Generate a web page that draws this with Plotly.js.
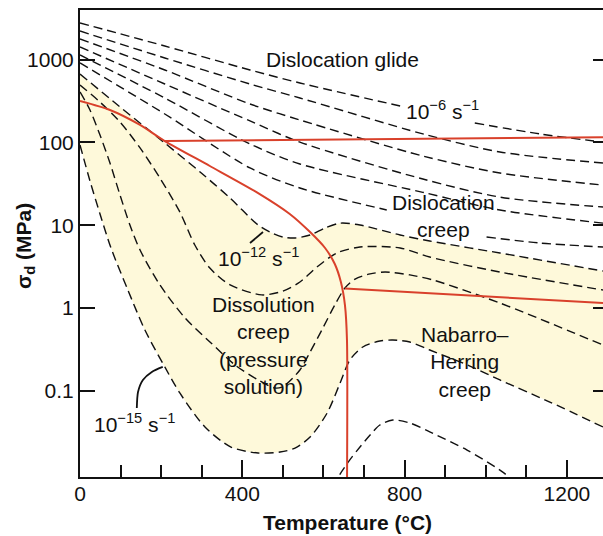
<!DOCTYPE html>
<html><head><meta charset="utf-8">
<script src="https://cdn.plot.ly/plotly-3.0.1.min.js"></script>
<style>html,body{margin:0;padding:0;background:#fff}#chart{width:603px;height:536px}</style>
</head><body><div id="chart"></div>
<script>
// Strain-rate contours: temperature (°C) and differential stress (MPa)
const T_e6  = [0, 209, 419, 542, 789, null, 973, 1133, 1289];
const S_e6  = [2780, 1466, 752, 524, 276, null, 172, 127, 101];
const T_e7  = [0, 209, 419, 542, 845, 1035, 1289];
const S_e7  = [2224, 1050, 509, 345, 127, 76.8, 56.5];
const T_e8  = [0, 209, 419, 542, 845, 1035, 1289];
const S_e8  = [1782, 752, 292, 187, 68.7, 42.8, 30.6];
const T_e9  = [0, 209, 419, 542, 845, 1035, 1289];
const S_e9  = [1426, 509, 182, 101, 36.2, 21.9, 16.6];
const T_e10 = [0, 209, 419, 542, 845, 1035, 1289];
const S_e10 = [1141, 345, 95.9, 55.0, 25.0, 15.3, 10.6];
const T_e11 = [0, 209, 419, 542, 756, null, 1002, 1133, 1289];
const S_e11 = [914, 221, 49.2, 28.2, 15.3, null, 7.21, 6.10, 5.46];
const T_e12 = [0, 98.6, 209, 296, 370, 439, 468, 500, 530, 567, 604, 641, 690, 789, 862, 1035, 1289];
const S_e12 = [673, 269, 98.6, 44.0, 21.3, 10.07, 8.28, 7.21, 7.01, 7.62, 9.27, 10.6, 10.07, 7.62, 6.45, 4.62, 2.80];
const T_e13 = [0, 49.3, 98.6, 148, 197, 246, 283, 320, 370, 448, 500, 542, 584, 633, 690, 789, 862, 1035, 1289];
const S_e13 = [495, 308, 177, 85.9, 37.2, 14.5, 5.77, 3.04, 1.90, 1.44, 1.60, 2.06, 3.13, 4.62, 5.46, 5.31, 4.13, 2.72, 1.65];
const T_e14 = [0, 24.6, 49.3, 73.9, 98.6, 123, 148, 197, 259, 323, 382, 439, 480, 500, 542, 567, 596, 628, 653, 678, 715, 752, 813, 870, 1035, 1289];
const S_e14 = [408, 247, 123, 56.5, 23.2, 10.07, 5.02, 1.90, 0.757, 0.378, 0.205, 0.135, 0.108, 0.112, 0.178, 0.294, 0.542, 1.087, 1.745, 2.24, 2.58, 2.72, 2.51, 2.18, 1.149, 0.357];
const T_e15 = [0, 24.6, 49.3, 76.4, 118, 160, 209, 246, 308, 372, 439, 493, 530, 567, 609, 641, 665, 697, 739, 771, 813, 862, 961, 1035, 1158, 1289];
const S_e15 = [93.3, 34.3, 13.7, 5.31, 1.65, 0.542, 0.194, 0.0940, 0.0365, 0.0209, 0.0177, 0.0182, 0.0203, 0.0276, 0.0538, 0.124, 0.235, 0.338, 0.399, 0.410, 0.388, 0.311, 0.199, 0.135, 0.0731, 0.0365];
const T_e16 = [623, 641, 665, 690, 715, 739, 771, 813, 862, 954, 1042, 1079];
const S_e16 = [0.00687, 0.00986, 0.0146, 0.0209, 0.0292, 0.0386, 0.0443, 0.0408, 0.0318, 0.0192, 0.0104, 0.00726];

// Field boundaries (red)
const T_bDiss = [0, 73.9, 148, 209, 320, 439, 517, 567, 604, 628, 643, 653, 658, 658];
const S_bDiss = [317, 247, 163, 104, 52.0, 24.5, 13.7, 8.28, 5.31, 3.40, 2.06, 1.087, 0.410, 0.00632];
const T_bGlide = [209, 1289];
const S_bGlide = [104, 116];
const T_bNH = [653, 1289];
const S_bNH = [1.72, 1.148];

// Label leaders
const T_lead12 = [419, 451];
const S_lead12 = [6.10, 8.28];
const T_lead15 = [140, 143, 155, 177, 204];
const S_lead15 = [0.0620, 0.0966, 0.135, 0.169, 0.194];

const yTickVals = [0.1, 1, 10, 100, 1000];
const yTickText = ['0.1', '1', '10', '100', '1000'];

const FONT = '"Liberation Sans", Arial, Helvetica, sans-serif';
const INK = '#111111';
const RED = '#d9412b';
const YELLOW = '#fef9da';

function dashed(T, S) {
  return {x: T, y: S, mode: 'lines', connectgaps: false, hoverinfo: 'skip', showlegend: false,
    line: {color: INK, width: 1.4, dash: '9px,5px', shape: 'spline', smoothing: 0.8}};
}
function solid(T, S, color, w, shape) {
  return {x: T, y: S, mode: 'lines', hoverinfo: 'skip', showlegend: false,
    line: {color: color, width: w, shape: shape || 'linear', smoothing: 0.7}};
}

const traces = [
  {x: T_e15, y: S_e15, mode: 'lines', hoverinfo: 'skip', showlegend: false,
   line: {width: 0, color: 'rgba(0,0,0,0)', shape: 'spline', smoothing: 0.8}},
  {x: T_e12, y: S_e12, mode: 'lines', fill: 'tonexty', fillcolor: YELLOW, hoverinfo: 'skip', showlegend: false,
   line: {width: 0, color: 'rgba(0,0,0,0)', shape: 'spline', smoothing: 0.8}},
  dashed(T_e6, S_e6), dashed(T_e7, S_e7), dashed(T_e8, S_e8), dashed(T_e9, S_e9),
  dashed(T_e10, S_e10), dashed(T_e11, S_e11), dashed(T_e12, S_e12), dashed(T_e13, S_e13),
  dashed(T_e14, S_e14), dashed(T_e15, S_e15), dashed(T_e16, S_e16),
  solid(T_bDiss, S_bDiss, RED, 2, 'spline'),
  solid(T_bGlide, S_bGlide, RED, 2),
  solid(T_bNH, S_bNH, RED, 2),
  solid(T_lead12, S_lead12, INK, 1.8),
  solid(T_lead15, S_lead15, INK, 1.8, 'spline'),
  {x: [null], y: [null], yaxis: 'y2', mode: 'lines', hoverinfo: 'skip', showlegend: false}
];

const L = Math.log10;
function lab(text, T, S, size) {
  return {text: text, x: T, y: L(S), xref: 'x', yref: 'y', showarrow: false,
    xanchor: 'center', yanchor: 'middle', font: {family: FONT, size: size || 21, color: INK}};
}

const annotations = [
  lab('Dislocation glide', 646, 993),
  lab('10<sup>−6</sup> s<sup>−1</sup>', 894, 247),
  lab('Dislocation<br>creep', 896, 12.9),
  lab('10<sup>−12</sup> s<sup>−1</sup>', 441, 4.13),
  lab('Dissolution<br>creep<br>(pressure<br>solution)', 453, 0.357),
  lab('Nabarro–<br>Herring<br>creep', 949, 0.222),
  lab('10<sup>−15</sup> s<sup>−1</sup>', 135.5, 0.0408),
  {text: '<b>σ<sub>d</sub> (MPa)</b>', xref: 'paper', yref: 'paper', x: -0.105, y: 0.4946,
   textangle: -90, showarrow: false, xanchor: 'center', yanchor: 'middle',
   font: {family: FONT, size: 21, color: INK}},
  {text: '<b>Temperature (°C)</b>', xref: 'paper', yref: 'paper', x: 0.5115, y: -0.0964,
   showarrow: false, xanchor: 'center', yanchor: 'middle',
   font: {family: FONT, size: 21, color: INK}}
];

const layout = {
  width: 603, height: 536,
  margin: {l: 80, r: 0, t: 10, b: 59, pad: 0},
  paper_bgcolor: '#ffffff', plot_bgcolor: '#ffffff',
  showlegend: false,
  font: {family: FONT, color: INK},
  xaxis: {
    range: [0, 1289], tickmode: 'linear', tick0: 0, dtick: 400,
    ticks: 'inside', ticklen: 17, tickwidth: 2, tickcolor: INK,
    minor: {dtick: 100, tick0: 0, ticks: 'inside', ticklen: 12, tickwidth: 2, tickcolor: INK},
    showline: true, linewidth: 2, linecolor: INK, mirror: true,
    showgrid: false, zeroline: false, ticklabelstandoff: -3,
    tickfont: {family: FONT, size: 21, color: INK}
  },
  yaxis: {
    type: 'log', range: [-2.042, 3.601],
    tickmode: 'array', tickvals: yTickVals, ticktext: yTickText,
    ticks: 'inside', ticklen: 15, tickwidth: 2, tickcolor: INK,
    showline: true, linewidth: 2, linecolor: INK,
    showgrid: false, zeroline: false,
    tickfont: {family: FONT, size: 21, color: INK}
  },
  yaxis2: {
    type: 'log', range: [-2.042, 3.601], overlaying: 'y', side: 'right', anchor: 'x',
    tickmode: 'array', tickvals: yTickVals, ticktext: yTickText,
    ticks: 'inside', ticklen: 10, tickwidth: 2, tickcolor: INK,
    showticklabels: false, showline: false, showgrid: false, zeroline: false
  },
  annotations: annotations
};

Plotly.newPlot('chart', traces, layout, {staticPlot: true, displayModeBar: false});
</script></body></html>
